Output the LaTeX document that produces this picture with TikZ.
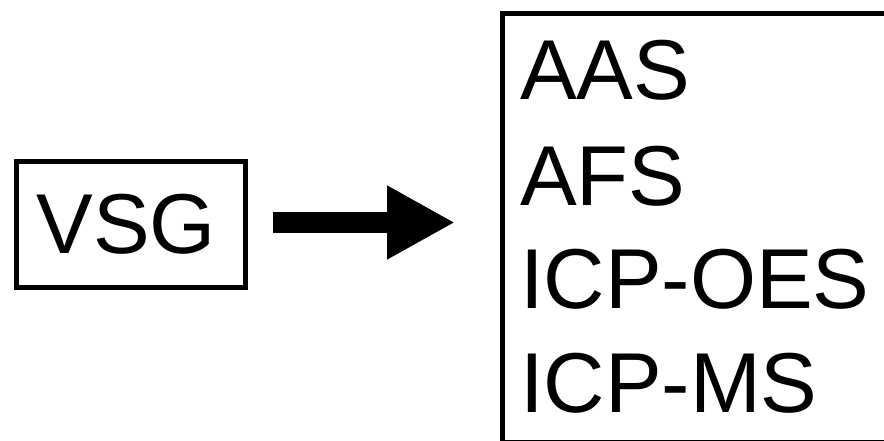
\documentclass[tikz,border=0pt]{standalone}
\usepackage{fontspec}
\setmainfont{Liberation Sans}
\usetikzlibrary{arrows.meta}
\tikzset{
  boxframe/.style={draw=black, line width=5pt, inner sep=0pt, outer sep=0pt},
  bigtext/.style={inner sep=0pt, outer sep=0pt, anchor=base west, font=\fontsize{85}{100}\selectfont},
  bigarrow/.style={line width=21pt, -{Triangle[length=68pt,width=69pt]}}
}
\begin{document}
\begin{tikzpicture}[x=1pt,y=-1pt]
\useasboundingbox (0,0) rectangle (884,441);
\clip (0,0) rectangle (884,441);
\fill[white] (0,0) rectangle (884,441);
% VSG box
\node[boxframe, minimum width=229pt, minimum height=125.5pt] (vsg) at (131,224.75) {};
\node[bigtext] (vsgt) at (36.5,253) {VSG};
% right box
\node[boxframe, minimum width=388pt, minimum height=428.5pt] (box) at (696,227.75) {};
\node[bigtext] (t1) at (520,100) {AAS};
\node[bigtext] (t2) at (520,205) {AFS};
\node[bigtext] (t3) at (520,308.5) {ICP-OES};
\node[bigtext] (t4) at (520,412) {ICP-MS};
% arrow
\coordinate (a1) at ([yshift=2.25pt]vsg.east);
\coordinate (a2) at (a1 -| box.west);
\draw[bigarrow, shorten <=27.5pt, shorten >=47pt] (a1) -- (a2);
\end{tikzpicture}
\end{document}
